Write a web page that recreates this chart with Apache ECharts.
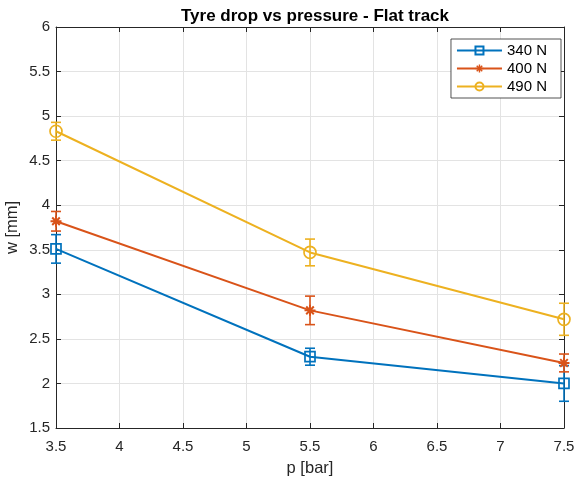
<!DOCTYPE html>
<html>
<head>
<meta charset="utf-8">
<script src="https://cdn.jsdelivr.net/npm/echarts@6/dist/echarts.min.js"></script>
<style>html,body{margin:0;padding:0;background:#fff}#c{width:574px;height:481px}</style>
</head>
<body>
<div id="c"></div>
<script>
var pressure = [3.5, 5.5, 7.5];
var seriesNames = ['340 N', '400 N', '490 N'];
var w340 = [3.51, 2.30, 2.00];
var w400 = [3.82, 2.82, 2.23];
var w490 = [4.83, 3.47, 2.72];
var err340 = [0.16, 0.095, 0.20];
var err400 = [0.11, 0.16, 0.10];
var err490 = [0.10, 0.15, 0.18];
var xTicks = ['3.5','4','4.5','5','5.5','6','6.5','7','7.5'];
var yTicks = ['1.5','2','2.5','3','3.5','4','4.5','5','5.5','6'];

var colors = ['#0072BD', '#D95319', '#EDB120'];
var txt = '#262626';
var F = 'Liberation Sans, Arial, sans-serif';
var asterisk = 'path://M-0.9,-5L0.9,-5L0.9,5L-0.9,5Z M-5,-0.9L5,-0.9L5,0.9L-5,0.9Z M-4.1,-2.8L-2.8,-4.1L4.1,2.8L2.8,4.1Z M2.8,-4.1L4.1,-2.8L-2.8,4.1L-4.1,2.8Z';

function lineSeries(name, vals, color, symbol, size, filled) {
  return {
    name: name, type: 'line', xAxisIndex: 0, yAxisIndex: 0,
    data: pressure.map(function (p, i) { return [p, vals[i]]; }),
    symbol: symbol, symbolSize: size,
    lineStyle: { color: color, width: 2 },
    itemStyle: filled ? { color: color, borderWidth: 0 } : { color: 'rgba(255,255,255,0)', borderColor: color, borderWidth: 1.7 },
    z: 3
  };
}
function errSeries(vals, errs, color) {
  return {
    type: 'custom', xAxisIndex: 0, yAxisIndex: 0,
    data: pressure.map(function (p, i) { return [p, vals[i] - errs[i], vals[i] + errs[i]]; }),
    renderItem: function (params, api) {
      var lo = api.coord([api.value(0), api.value(1)]);
      var hi = api.coord([api.value(0), api.value(2)]);
      var h = 5;
      var st = { stroke: color, lineWidth: 1.6 };
      return { type: 'group', children: [
        { type: 'line', shape: { x1: lo[0], y1: lo[1], x2: hi[0], y2: hi[1] }, style: st },
        { type: 'line', shape: { x1: lo[0] - h, y1: lo[1], x2: lo[0] + h, y2: lo[1] }, style: st },
        { type: 'line', shape: { x1: hi[0] - h, y1: hi[1], x2: hi[0] + h, y2: hi[1] }, style: st }
      ]};
    },
    z: 2, silent: true
  };
}

var axisCommon = {
  type: 'value',
  axisLine: { show: true, lineStyle: { color: txt, width: 1 } },
  axisTick: { show: true, inside: true, length: 5, lineStyle: { color: txt } },
  splitLine: { show: true, lineStyle: { color: '#e3e3e3', width: 1 } }
};

var chart = echarts.init(document.getElementById('c'), null, { renderer: 'canvas' });
chart.setOption({
  animation: false,
  backgroundColor: '#fff',
  title: {
    text: 'Tyre drop vs pressure - Flat track', left: 310, top: 3, textAlign: 'center',
    textStyle: { fontFamily: F, fontSize: 17, fontWeight: 'bold', color: '#000' }
  },
  grid: { left: 56, right: 10, top: 27, bottom: 53, outerBoundsMode: 'none', containLabel: false },
  legend: {
    orient: 'vertical', right: 13, top: 39,
    data: seriesNames,
    itemWidth: 45, itemHeight: 10, itemGap: 3,
    padding: [4, 14, 4, 5],
    borderColor: '#262626', borderWidth: 0.8, backgroundColor: '#fff',
    textStyle: { fontFamily: F, fontSize: 15, color: '#000' }
  },
  xAxis: [
    Object.assign({}, axisCommon, {
      min: 3.5, max: 7.5, interval: 0.5, position: 'bottom',
      axisLabel: { fontFamily: F, fontSize: 15, color: txt, margin: 11,
        formatter: function (v) { return xTicks[Math.round((v - 3.5) / 0.5)]; } },
      name: 'p [bar]', nameLocation: 'middle', nameGap: 32, nameMoveOverlap: false,
      nameTextStyle: { fontFamily: F, fontSize: 16.5, color: txt }
    }),
    Object.assign({}, axisCommon, {
      min: 3.5, max: 7.5, interval: 0.5, position: 'top',
      axisLabel: { show: false }, splitLine: { show: false }
    })
  ],
  yAxis: [
    Object.assign({}, axisCommon, {
      min: 1.5, max: 6, interval: 0.5, position: 'left',
      axisLabel: { fontFamily: F, fontSize: 15, color: txt, margin: 6,
        formatter: function (v) { return yTicks[Math.round((v - 1.5) / 0.5)]; } },
      name: 'w [mm]', nameLocation: 'middle', nameGap: 35, nameRotate: 90, nameMoveOverlap: false,
      nameTextStyle: { fontFamily: F, fontSize: 16.5, color: txt }
    }),
    Object.assign({}, axisCommon, {
      min: 1.5, max: 6, interval: 0.5, position: 'right',
      axisLabel: { show: false }, splitLine: { show: false }
    })
  ],
  series: [
    errSeries(w340, err340, colors[0]),
    errSeries(w400, err400, colors[1]),
    errSeries(w490, err490, colors[2]),
    lineSeries(seriesNames[0], w340, colors[0], 'rect', 10, false),
    lineSeries(seriesNames[1], w400, colors[1], asterisk, 11, true),
    lineSeries(seriesNames[2], w490, colors[2], 'circle', 12, false)
  ]
});
</script>
</body>
</html>
